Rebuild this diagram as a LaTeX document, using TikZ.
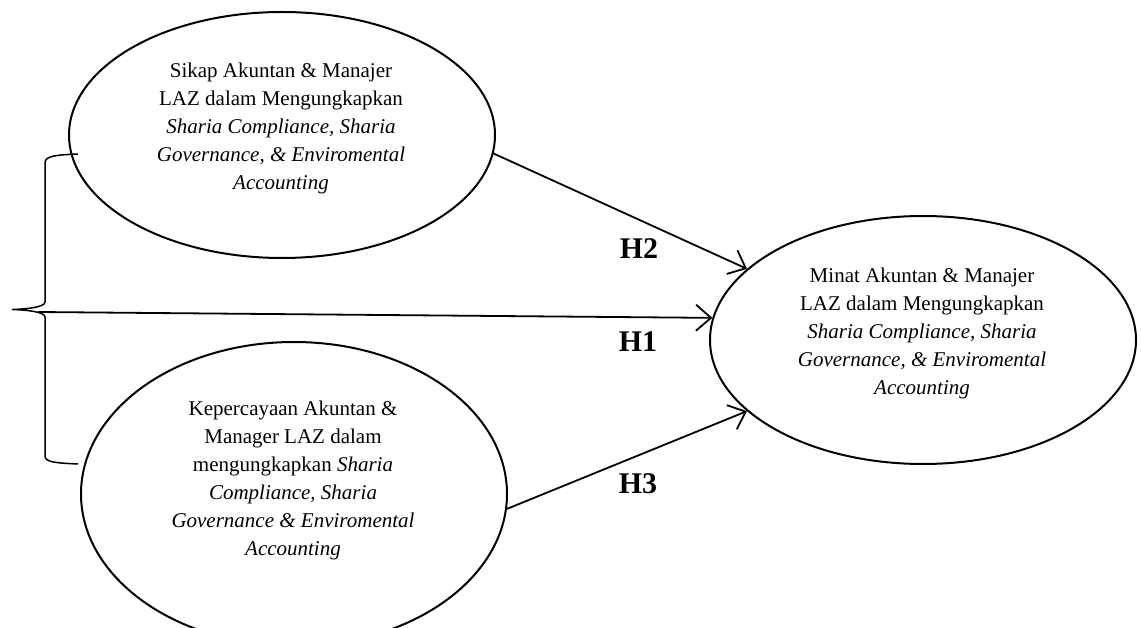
\documentclass[tikz,border=0pt]{standalone}
\usepackage{fontspec}
\setmainfont{Liberation Serif}
\usetikzlibrary{shapes.geometric,arrows.meta}
\begin{document}
\begin{tikzpicture}[x=1pt,y=-1pt,
  oval/.style={draw, ellipse, line width=2pt, minimum width=426pt, inner sep=0pt},
  txt/.style={align=center, font=\fontsize{21}{28}\selectfont, inner sep=0pt},
  hyp/.style={font=\fontsize{30}{30}\selectfont\bfseries, inner sep=0pt},
  conn/.style={line width=1.8pt, -{Straight Barb[length=15pt,width=26pt,line width=1.8pt]}},
  brace/.style={line width=1.5pt}
]
\useasboundingbox (0,0) rectangle (1141,628);
\clip (0,0) rectangle (1141,628);

\node[oval, minimum height=246pt] (sikap) at (282,135) {};
\node[oval, minimum height=304pt] (keperc) at (294,494) {};
\node[oval, minimum height=248pt] (minat) at (923,340) {};

\node[txt] (tsikap) at (281,128) {Sikap Akuntan \& Manajer\\LAZ dalam Mengungkapkan\\\textit{Sharia Compliance, Sharia}\\\textit{Governance, \& Enviromental}\\\textit{Accounting}};
\node[txt] (tkeperc) at (293,480) {Kepercayaan Akuntan \&\\Manager LAZ dalam\\mengungkapkan \textit{Sharia}\\\textit{Compliance, Sharia}\\\textit{Governance \& Enviromental}\\\textit{Accounting}};
\node[txt] (tminat) at (922,333) {Minat Akuntan \& Manajer\\LAZ dalam Mengungkapkan\\\textit{Sharia Compliance, Sharia}\\\textit{Governance, \& Enviromental}\\\textit{Accounting}};

% brace
\draw[brace] (78,154) .. controls (55,155) and (45,156) .. (45,163) -- (45,302)
  .. controls (45,307) and (28,309) .. (12,309.5)
  .. controls (28,310) and (45,312) .. (45,317) -- (45,456)
  .. controls (45,462) and (55,463) .. (78,464);
\coordinate (bt) at (38,312);

\draw[conn] (bt) -- (minat.174.4);
\draw[conn] (sikap.-5.1) -- (minat.158.75);
\draw[conn] (keperc.-4.3) -- (minat.202);

\node[hyp] (h2) at (639,249) {H2};
\node[hyp] (h1) at (638,342) {H1};
\node[hyp] (h3) at (638,484) {H3};
\end{tikzpicture}
\end{document}
